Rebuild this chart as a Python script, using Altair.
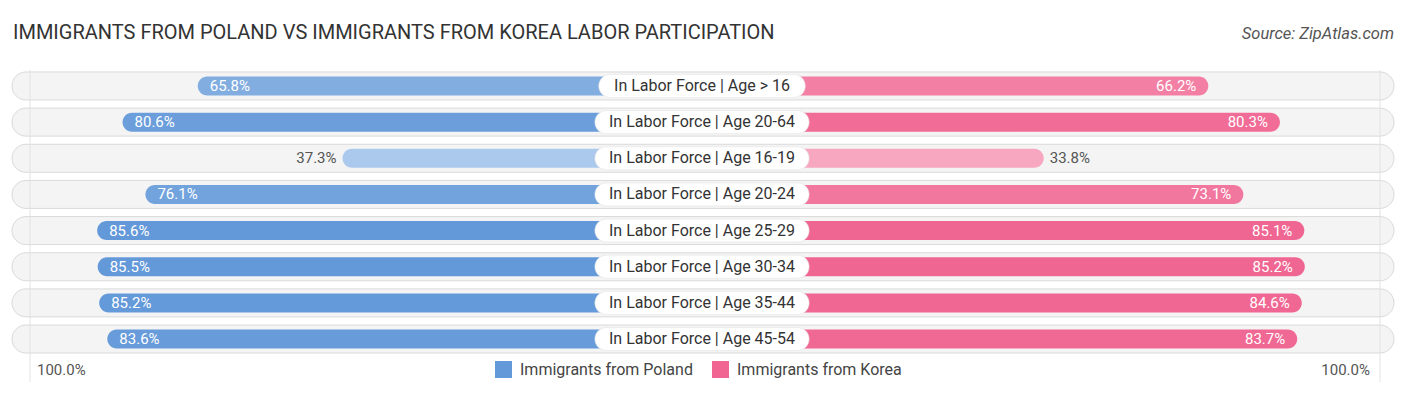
import altair as alt
import pandas as pd

title = "IMMIGRANTS FROM POLAND VS IMMIGRANTS FROM KOREA LABOR PARTICIPATION"
source = "Source: ZipAtlas.com"
categories = [
    "In Labor Force | Age > 16",
    "In Labor Force | Age 20-64",
    "In Labor Force | Age 16-19",
    "In Labor Force | Age 20-24",
    "In Labor Force | Age 25-29",
    "In Labor Force | Age 30-34",
    "In Labor Force | Age 35-44",
    "In Labor Force | Age 45-54",
]
poland = [65.8, 80.6, 37.3, 76.1, 85.6, 85.5, 85.2, 83.6]
korea = [66.2, 80.3, 33.8, 73.1, 85.1, 85.2, 84.6, 83.7]
series = ["Immigrants from Poland", "Immigrants from Korea"]
axis_labels = ["100.0%", "100.0%"]

# layout constants (pixels)
W, H = 1390, 379
PX = 5.08          # pixels per percent
OFF = 170 / PX     # gap from centre to each bar's zero, in percent units
FONT = "Roboto"

xscale = alt.Scale(domain=[-(100 + OFF), 100 + OFF], range=[16, 1372])
yscale = alt.Scale(domain=categories, range=[59.9, 349.1], paddingInner=0, paddingOuter=0)
Y = alt.Y("cat:N", scale=yscale, axis=None, sort=categories)

rows = pd.DataFrame({"cat": categories})
rows["hw"] = rows["cat"].str.len().map(lambda n: (n * 7.7 + 14) / 2 / PX)
rows["nhw"] = -rows["hw"]
rows["mid"] = 0.0

pol = pd.DataFrame({"cat": categories, "value": poland})
pol["end"] = -(OFF + pol["value"])
pol["zero"] = 0.0
pol["label"] = pol["value"].map(lambda v: f"{v:.1f}%")
kor = pd.DataFrame({"cat": categories, "value": korea})
kor["end"] = OFF + kor["value"]
kor["zero"] = 0.0
kor["label"] = kor["value"].map(lambda v: f"{v:.1f}%")

bg = alt.Chart(rows).mark_bar(
    size=28, cornerRadius=14, fill="#f4f4f4", stroke="#dadada", strokeWidth=1
).encode(x=alt.value(4), x2=alt.value(1386), y=Y)

gridlines = alt.Chart(pd.DataFrame({"g": [-(100 + OFF) + 6 / PX, 100 + OFF]})).mark_rule(
    color="#e2e2e2", strokeWidth=1
).encode(x=alt.X("g:Q", scale=xscale, axis=None), y=alt.value(62), y2=alt.value(374))

pol_bars = alt.Chart(pol).mark_bar(size=19, cornerRadius=9.5).encode(
    x=alt.X("end:Q", scale=xscale, axis=None),
    x2="zero:Q",
    y=Y,
    color=alt.Color("value:Q", scale=alt.Scale(domain=[37, 86], range=["#abc9ec", "#6399d9"], clamp=True), legend=None),
)
kor_bars = alt.Chart(kor).mark_bar(size=19, cornerRadius=9.5).encode(
    x=alt.X("end:Q", scale=xscale, axis=None),
    x2="zero:Q",
    y=Y,
    color=alt.Color("value:Q", scale=alt.Scale(domain=[33, 86], range=["#f7a8c1", "#f06592"], clamp=True), legend=None),
)

txt = dict(font=FONT, fontSize=15, baseline="middle")
pol_in = alt.Chart(pol).transform_filter("datum.value > 50").mark_text(align="left", dx=12, color="white", **txt).encode(
    x=alt.X("end:Q", scale=xscale, axis=None), y=Y, text="label:N")
pol_out = alt.Chart(pol).transform_filter("datum.value <= 50").mark_text(align="right", dx=-6, color="#555555", **txt).encode(
    x=alt.X("end:Q", scale=xscale, axis=None), y=Y, text="label:N")
kor_in = alt.Chart(kor).transform_filter("datum.value > 50").mark_text(align="right", dx=-12, color="white", **txt).encode(
    x=alt.X("end:Q", scale=xscale, axis=None), y=Y, text="label:N")
kor_out = alt.Chart(kor).transform_filter("datum.value <= 50").mark_text(align="left", dx=6, color="#555555", **txt).encode(
    x=alt.X("end:Q", scale=xscale, axis=None), y=Y, text="label:N")

box = alt.Chart(rows).mark_bar(size=23, cornerRadius=11.5, fill="white", stroke="#e4e4e4", strokeWidth=0.6).encode(
    x=alt.X("nhw:Q", scale=xscale, axis=None), x2="hw:Q", y=Y)
box_text = alt.Chart(rows).mark_text(font=FONT, fontSize=16, color="#333333", baseline="middle").encode(
    x=alt.X("mid:Q", scale=xscale, axis=None), y=Y, text="cat:N")

title_mark = alt.Chart(pd.DataFrame({"t": [title]})).mark_text(
    font=FONT, fontSize=20, color="#333333", align="left", baseline="middle"
).encode(text="t:N", x=alt.value(5), y=alt.value(25))
source_mark = alt.Chart(pd.DataFrame({"t": [source]})).mark_text(
    font=FONT, fontSize=16.5, color="#555555", align="right", baseline="middle", fontStyle="italic"
).encode(text="t:N", x=alt.value(1386), y=alt.value(26))

ax_left = alt.Chart(pd.DataFrame({"t": axis_labels[:1]})).mark_text(
    font=FONT, fontSize=15, color="#555555", align="left", baseline="middle"
).encode(text="t:N", x=alt.value(29), y=alt.value(362))
ax_right = alt.Chart(pd.DataFrame({"t": axis_labels[1:]})).mark_text(
    font=FONT, fontSize=15, color="#555555", align="right", baseline="middle"
).encode(text="t:N", x=alt.value(1362), y=alt.value(362))

legend_layer = alt.Chart(pd.DataFrame({"series": series})).mark_square(size=10).encode(
    x=alt.value(-60), y=alt.value(-60),
    color=alt.Color("series:N", scale=alt.Scale(domain=series, range=["#6399d9", "#f06592"]),
                    legend=alt.Legend(orient="none", legendX=487, legendY=353, direction="horizontal",
                                      title=None, symbolType="square", symbolSize=289, symbolStrokeWidth=0,
                                      symbolOpacity=1, labelFont=FONT, labelFontSize=16, labelColor="#444444",
                                      labelLimit=400, labelOffset=8, columnPadding=19, padding=0)),
)

chart = alt.layer(
    bg, gridlines, pol_bars, kor_bars, pol_in, pol_out, kor_in, kor_out, box, box_text,
    title_mark, source_mark, ax_left, ax_right, legend_layer,
).resolve_scale(color="independent").properties(
    width=W, height=H, autosize=alt.AutoSizeParams(type="none"), padding=0, background="white"
).configure_view(stroke=None)

chart.save("out.html", embed_options={"renderer": "svg", "actions": False})
